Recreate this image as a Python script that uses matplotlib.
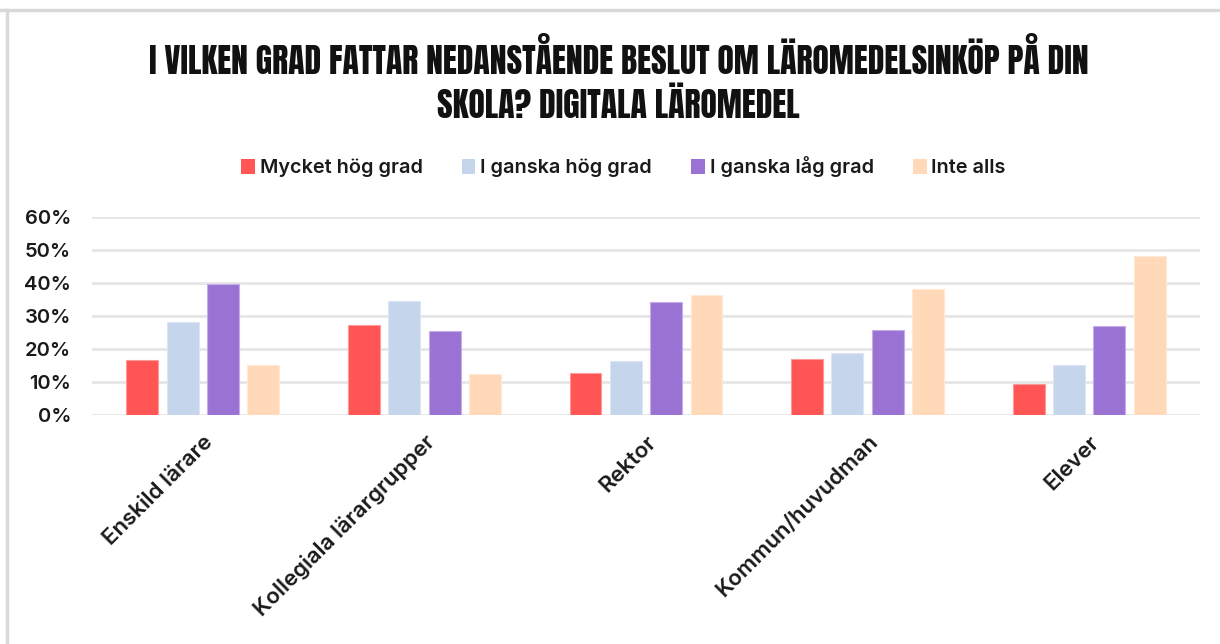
import numpy as np
import matplotlib
matplotlib.use('Agg')
import matplotlib.pyplot as plt
from matplotlib.lines import Line2D
from matplotlib.patches import Patch

# data
categories = ['Enskild lärare', 'Kollegiala lärargrupper', 'Rektor',
              'Kommun/huvudman', 'Elever']
series_names = ['Mycket hög grad', 'I ganska hög grad',
                'I ganska låg grad', 'Inte alls']
mycket_hog = [16.6, 27.3, 12.6, 16.9, 9.3]
ganska_hog = [28.2, 34.4, 16.5, 18.9, 15.3]
ganska_lag = [39.6, 25.4, 34.3, 25.8, 27.0]
inte_alls = [15.2, 12.5, 36.3, 38.1, 48.2]
yticks = [0, 10, 20, 30, 40, 50, 60]
ytick_labels = ['0%', '10%', '20%', '30%', '40%', '50%', '60%']

colors = ['#FF5555', '#C5D5EC', '#9A72D4', '#FFD9B8']
edges = ['#FF9A9A', '#DCE6F4', '#C3AEE8', '#FFE8D4']

fig = plt.figure(figsize=(12.2, 6.44), dpi=100)
ax = fig.add_axes([92/1220, 1-415/644, 1108/1220, 198/644])

x = np.arange(len(categories))
width = 0.144
step = 0.182
all_series = [mycket_hog, ganska_hog, ganska_lag, inte_alls]
for i, vals in enumerate(all_series):
    off = (i - 1.5) * step
    ax.bar(x + off, vals, width, color=colors[i], edgecolor=edges[i],
           linewidth=0.8, zorder=3, label=series_names[i])

ax.set_xlim(-0.5, len(categories) - 0.5)
ax.set_ylim(0, 60)
ax.set_yticks(yticks)
ax.set_yticklabels(ytick_labels, fontsize=14.5, family='Inter', fontweight='semibold',
                   color='#1a1a1a')
ax.set_xticks(x)
ax.set_xticklabels(categories, rotation=45, ha='right', rotation_mode='anchor',
                   fontsize=16, family='Inter', fontweight='semibold', color='#1a1a1a')
ax.tick_params(axis='y', length=0, pad=15)
ax.tick_params(axis='x', length=0, pad=12)
ax.grid(axis='y', color='#E6E6E6', linewidth=2, zorder=0)
for s in ax.spines.values():
    s.set_visible(False)

# title
title_font = dict(ha='center', va='center', fontsize=24.3, family='Anton', color='#111111')
fig.text(0.507, 1-57/644, 'I VILKEN GRAD FATTAR NEDANSTÅENDE BESLUT OM LÄROMEDELSINKÖP PÅ DIN',
         **title_font)
fig.text(0.507, 1-104/644, 'SKOLA? DIGITALA LÄROMEDEL', **title_font)

# legend
handles = [Patch(facecolor=c, edgecolor='none') for c in colors]
leg = fig.legend(handles, series_names, loc='center', bbox_to_anchor=(0.511, 1-167/644),
                 ncol=4, frameon=False, handlelength=0.7, handleheight=0.8,
                 handletextpad=0.25, columnspacing=1.95,
                 prop={'family': 'Inter', 'size': 14.3, 'weight': 'semibold'})
for t in leg.get_texts():
    t.set_color('#1a1a1a')

# light frame on top and left
fig.add_artist(Line2D([0, 1], [1-10/644, 1-10/644], transform=fig.transFigure,
                      color='#D9D9D9', linewidth=2.5))
fig.add_artist(Line2D([7/1220, 7/1220], [0, 1-10/644], transform=fig.transFigure,
                      color='#D9D9D9', linewidth=2.5))

fig.savefig('out.png', dpi=100)
